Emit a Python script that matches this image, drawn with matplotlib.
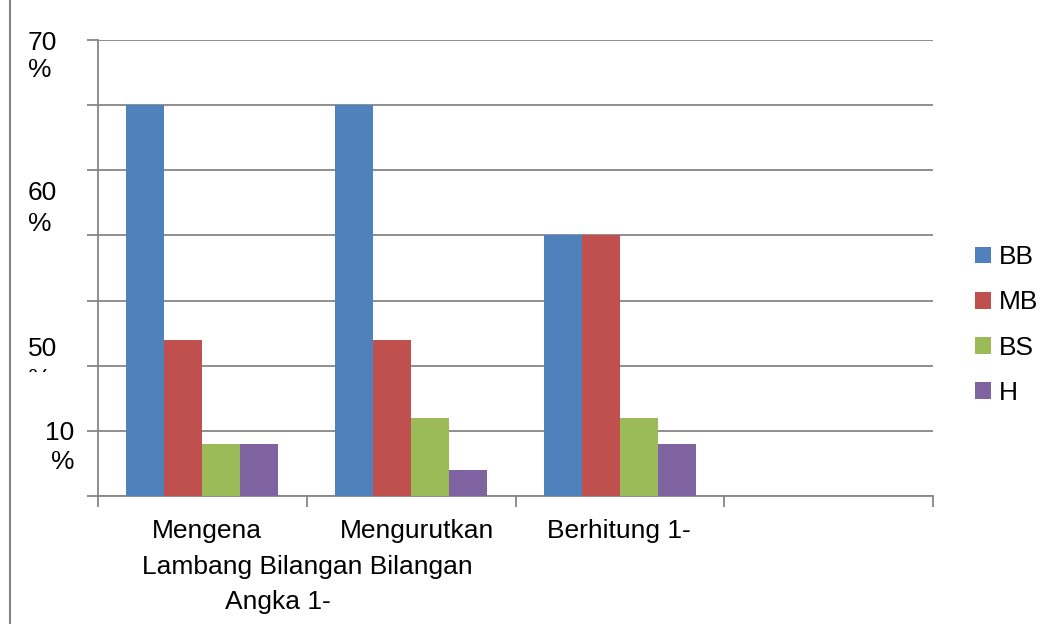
import numpy as np
import matplotlib.pyplot as plt
from matplotlib.lines import Line2D
from matplotlib.transforms import Bbox

plt.rcParams['font.family'] = ['Liberation Sans', 'DejaVu Sans']

categories = ['Mengena Lambang Bilangan Angka 1-', 'Mengurutkan Bilangan', 'Berhitung 1-', '']
series = ['BB', 'MB', 'BS', 'H']
BB = [60, 60, 40, 0]
MB = [24, 24, 40, 0]
BS = [8, 12, 12, 0]
H = [8, 4, 8, 0]
colors = ['#4F81BD', '#C0504D', '#9BBB59', '#8064A2']

W, Hpx = 1059, 624
fig = plt.figure(figsize=(W / 100, Hpx / 100), dpi=100)
ax = fig.add_axes([98 / W, 1 - 496 / Hpx, (933 - 98) / W, (496 - 40) / Hpx])

x = np.arange(len(categories))
bw = 38 / 209
for i, (name, vals) in enumerate(zip(series, [BB, MB, BS, H])):
    ax.bar(x + (i - 1.5) * bw, vals, bw, color=colors[i], label=name, zorder=3)

ax.set_xlim(-0.5, len(categories) - 0.5)
ax.set_ylim(0, 70)
ax.set_yticks(np.arange(0, 71, 10))
ax.yaxis.grid(True, color='#868686', lw=1.3, zorder=0)
ax.set_yticklabels([])
ax.tick_params(axis='y', length=8, color='#868686', width=1.3)
ax.set_xticks(np.arange(-0.5, len(categories), 1))
ax.set_xticklabels([])
ax.tick_params(axis='x', length=8, color='#868686', width=1.3)
for s in ['top', 'right']:
    ax.spines[s].set_visible(False)
for s in ['left', 'bottom']:
    ax.spines[s].set_color('#868686')
    ax.spines[s].set_linewidth(1.3)

fs = 19

def ftext(t, px, py, ha='left', **kw):
    return fig.text(px / W, 1 - py / Hpx, t, fontsize=fs, ha=ha, va='center', **kw)

# odd y labels as in the original
ftext('70', 28, 43)
ftext('%', 28, 70)
ftext('60', 28, 193)
ftext('%', 28, 224)
ftext('50', 28, 349)
pct = ftext('%', 28, 380)
pct.set_clip_box(Bbox([[0, Hpx - 372], [W, Hpx]]))
pct.set_clip_on(True)
ftext('10', 74, 433, ha='right')
ftext('%', 74, 462, ha='right')

# category labels, laid out as wrapped in the original
ftext('Mengena', 207, 531, ha='center')
ftext('Mengurutkan', 417, 531, ha='center')
ftext('Berhitung 1-', 619, 531, ha='center')
ftext('Lambang Bilangan Bilangan', 307, 567, ha='center')
ftext('Angka 1-', 278, 602, ha='center')

# chart frame left edge
fig.add_artist(Line2D([10 / W, 10 / W], [0, 1], color='#868686', lw=1.5))

handles, labels = ax.get_legend_handles_labels()
fig.legend(handles, labels, loc='center left', bbox_to_anchor=(975 / W, 1 - 325 / Hpx),
           frameon=False, fontsize=fs, handlelength=0.6, handleheight=0.6,
           handletextpad=0.3, labelspacing=0.8, borderpad=0, borderaxespad=0)

fig.savefig('out.png', dpi=100)
